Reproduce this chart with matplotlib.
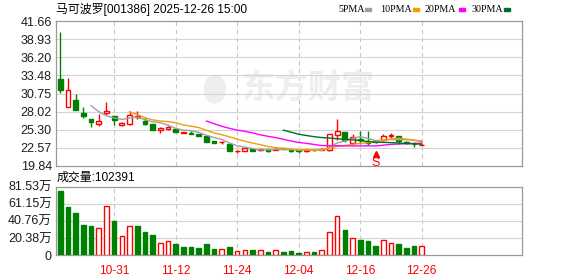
import numpy as np
import pandas as pd
import matplotlib.pyplot as plt
from matplotlib.patches import Rectangle, Ellipse

plt.rcParams["font.family"] = ["Liberation Sans", "Noto Sans CJK SC"]

# trading days shown (2025)
dates = ["10-22", "10-23", "10-24", "10-27", "10-28", "10-29", "10-30", "10-31",
         "11-03", "11-04", "11-05", "11-06", "11-07", "11-10", "11-11", "11-12",
         "11-13", "11-14", "11-17", "11-18", "11-19", "11-20", "11-21", "11-24",
         "11-25", "11-26", "11-27", "11-28", "12-01", "12-02", "12-03", "12-04",
         "12-05", "12-08", "12-09", "12-10", "12-11", "12-12", "12-15", "12-16",
         "12-17", "12-18", "12-19", "12-22", "12-23", "12-24", "12-25", "12-26"]

opens = [33.00, 28.77, 29.73, 27.81, 26.86, 26.15, 27.87, 27.36, 25.95, 26.21,
         27.26, 26.55, 26.10, 25.24, 25.39, 25.39, 24.85, 24.78, 24.59, 24.33,
         23.53, 23.40, 23.18, 22.07, 22.17, 22.37, 22.28, 22.37, 22.28, 22.50,
         22.32, 22.22, 22.07, 22.28, 22.25, 22.22, 24.54, 24.89, 23.23, 23.85,
         23.53, 23.55, 23.79, 24.40, 24.29, 23.38, 23.16, 23.00]
highs = [39.95, 33.10, 30.63, 28.67, 26.90, 27.61, 29.42, 27.40, 26.45, 28.17,
         28.06, 27.15, 26.20, 25.65, 25.80, 25.45, 24.95, 25.04, 24.62, 24.35,
         23.55, 23.64, 23.20, 22.20, 22.60, 22.45, 22.45, 22.42, 22.50, 22.60,
         22.36, 22.25, 22.30, 22.35, 22.60, 24.70, 26.96, 24.95, 24.69, 25.04,
         25.10, 23.70, 24.59, 24.74, 24.35, 23.55, 23.43, 23.10]
lows = [30.83, 28.70, 28.20, 27.05, 25.69, 25.85, 27.46, 26.05, 25.90, 25.95,
        26.96, 25.95, 25.24, 24.85, 25.24, 24.94, 24.74, 24.70, 24.29, 23.43,
        23.28, 23.13, 22.07, 21.80, 22.15, 22.17, 22.07, 21.97, 22.20, 22.35,
        21.90, 21.82, 21.90, 22.10, 22.20, 22.07, 23.68, 23.43, 22.98, 23.13,
        22.98, 23.30, 23.60, 24.04, 23.13, 23.10, 22.68, 22.95]
closes = [31.24, 31.24, 28.26, 27.36, 26.45, 26.66, 28.17, 26.75, 26.25, 27.46,
          27.42, 26.10, 25.24, 25.54, 25.65, 24.94, 24.92, 24.72, 24.29, 23.43,
          23.28, 23.46, 22.07, 22.12, 22.48, 22.17, 22.42, 22.17, 22.42, 22.40,
          22.13, 22.07, 22.28, 22.18, 22.42, 24.59, 25.04, 23.79, 24.18, 23.70,
          23.23, 23.40, 24.29, 24.48, 23.58, 23.23, 23.10, 23.05]

# volume in 万 shares, and whether the bar is drawn red (up)
volumes = [76.4, 57.3, 50.1, 35.8, 34.6, 32.2, 58.1, 40.6, 22.3, 34.2,
           34.2, 27.4, 23.9, 13.9, 16.3, 13.1, 9.5, 9.5, 8.4, 13.1,
           7.2, 6.8, 9.5, 4.4, 5.6, 6.0, 5.6, 3.6, 5.6, 3.6,
           4.8, 2.4, 3.2, 3.6, 5.6, 27.0, 46.1, 29.8, 19.9, 17.9,
           16.7, 10.7, 17.5, 13.9, 13.1, 8.4, 10.7, 10.24]
vol_up = [0, 0, 0, 0, 0, 1, 1, 0, 1, 1, 0, 0, 0, 1, 1, 0, 0, 0, 0, 0,
          0, 1, 0, 1, 1, 0, 1, 0, 1, 0, 0, 0, 1, 0, 1, 1, 1, 0, 1, 0,
          0, 0, 1, 1, 0, 0, 0, 1]

price_ticks = [19.84, 22.57, 25.30, 28.02, 30.75, 33.48, 36.20, 38.93, 41.66]
vol_ticks = [0, 20.38, 40.76, 61.15, 81.53]
vol_labels = ["0", "20.38万", "40.76万", "61.15万", "81.53万"]

ma_periods = [5, 10, 20, 30]
ma_colors = ["#a0a0a0", "#f0a000", "#ff00ff", "#006e2e"]

RED = "#ff0000"
GREEN = "#008000"

fig = plt.figure(figsize=(5.78, 2.76), dpi=100)
W, H = 578, 276


def px_axes(left, top, right, bottom):
    return fig.add_axes([left / W, 1 - bottom / H, (right - left) / W, (bottom - top) / H])


ax = px_axes(56, 21, 522, 166)
axv = px_axes(56, 186.7, 522, 255)

x = np.arange(len(dates))
grid_idx = list(range(7, len(dates), 8))

for a in (ax, axv):
    a.set_xlim(-0.56, 60.04)
    for s in a.spines.values():
        s.set_color("#999999")
        s.set_linewidth(0.9)
    a.set_xticks([])
    a.tick_params(axis="y", length=0, pad=3, labelsize=9, labelcolor="#1e1e1e")
    for gi in grid_idx:
        a.axvline(gi, color="#c8c8c8", lw=0.8, ls=(0, (4, 3)), zorder=0)

# watermark
ax.add_patch(Ellipse((0.341, 0.53), 0.045, 0.19, transform=ax.transAxes,
                     color="#eeeeee", zorder=0))
ax.text(0.54, 0.53, "东方财富", transform=ax.transAxes, ha="center", va="center",
        fontsize=24, fontweight="bold", color="#eeeeee", family="Noto Sans CJK SC", zorder=0)

# price panel
ax.set_ylim(price_ticks[0], price_ticks[-1])
ax.set_yticks(price_ticks)
ax.set_yticklabels([f"{t:.2f}" for t in price_ticks])
for t in price_ticks[1:-1]:
    ax.axhline(t, color="#d4d4d4", lw=0.8, zorder=0)

for i in x:
    o, h, l, c = opens[i], highs[i], lows[i], closes[i]
    up = c >= o
    col = RED if up else GREEN
    ax.vlines(i, l, h, color=col, lw=1.0, zorder=2)
    body = max(abs(c - o), 0.02)
    ax.bar(i, body, bottom=min(o, c), width=0.62, color="white" if up else col,
           edgecolor=col, linewidth=1.0, zorder=3)

close_s = pd.Series(closes)
for n, col in zip(ma_periods, ma_colors):
    ma = close_s.rolling(n).mean()
    ax.plot(x, ma, color=col, lw=1.0, zorder=4)

# sell marker
ax.plot(41, 21.64, marker="^", color=RED, markersize=4, zorder=5, clip_on=False)
ax.text(41, 21.2, "S", color=RED, fontsize=9, ha="center", va="top", zorder=5)

# volume panel
axv.set_ylim(0, vol_ticks[-1] * 1e4)
axv.set_yticks([v * 1e4 for v in vol_ticks])
axv.set_yticklabels(vol_labels)
for v in vol_ticks[1:-1]:
    axv.axhline(v * 1e4, color="#d4d4d4", lw=0.8, zorder=0)
for i in x:
    col = RED if vol_up[i] else GREEN
    axv.bar(i, volumes[i] * 1e4, width=0.6, color="white" if vol_up[i] else col,
            edgecolor=col, linewidth=1.0, zorder=3)

for gi in grid_idx:
    axv.text(gi, -0.14, dates[gi], transform=axv.get_xaxis_transform(), ha="center",
             va="top", color=RED, fontsize=8.6)

# header texts
fig.text(56 / W, 1 - 9 / H, "马可波罗[001386] 2025-12-26 15:00", ha="left", va="center",
         fontsize=8.6, color="black")
fig.text(57 / W, 1 - 177.5 / H, "成交量:102391", ha="left", va="center",
         fontsize=8.6, color="black")

legend_items = [("5PMA", 338, 365), ("10PMA", 380, 413), ("20PMA", 425, 459), ("30PMA", 472, 504)]
for (lab, tx, sx), col in zip(legend_items, ma_colors):
    fig.text(tx / W, 1 - 9.5 / H, lab, ha="left", va="center", fontsize=7.2,
             family="Liberation Serif", color="black")
    fig.patches.append(Rectangle((sx / W, 1 - 11 / H), 6 / W, 3 / H, color=col,
                                 transform=fig.transFigure, figure=fig))

fig.savefig("out.png", dpi=100)
